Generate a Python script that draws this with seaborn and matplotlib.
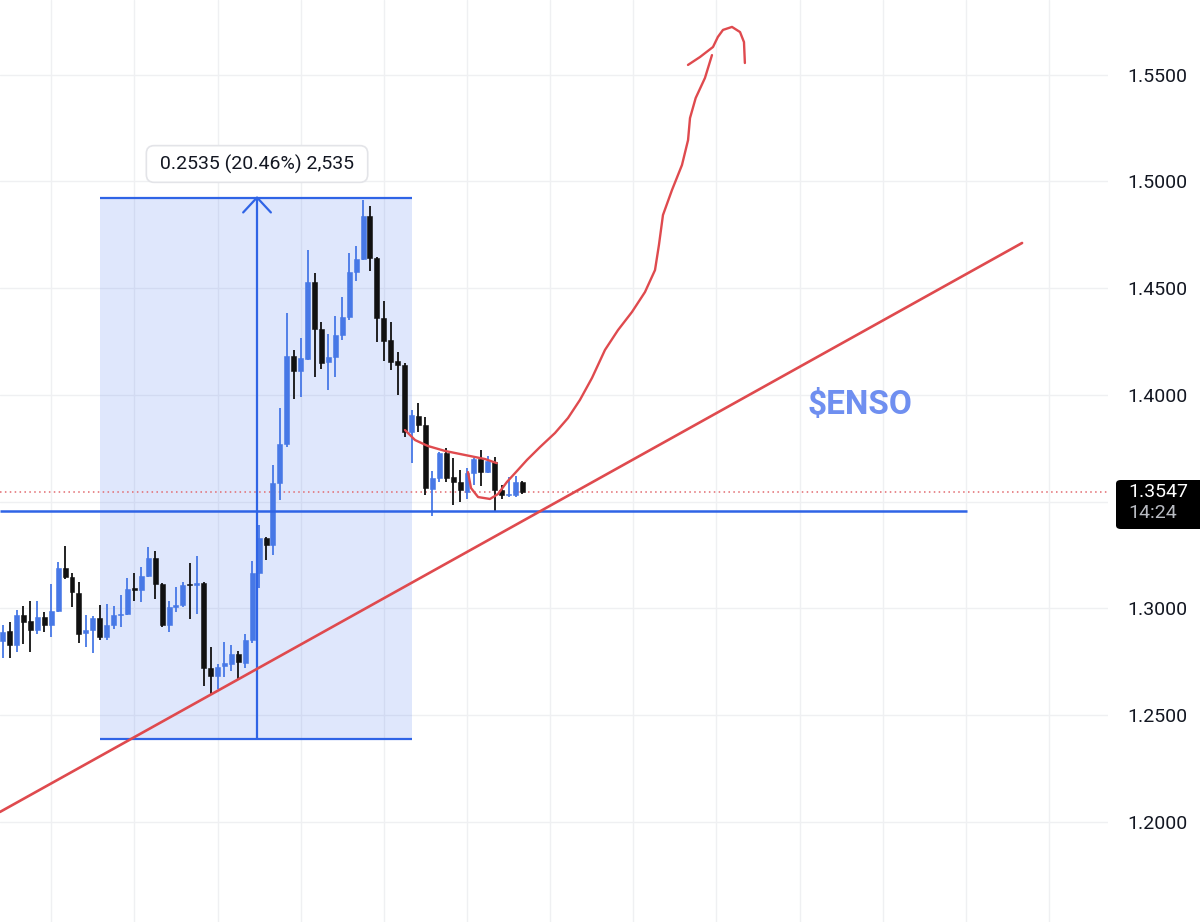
import numpy as np
import pandas as pd
import matplotlib
matplotlib.use("Agg")
import matplotlib.pyplot as plt
import seaborn as sns
from matplotlib.patches import Rectangle, FancyBboxPatch
from matplotlib.transforms import blended_transform_factory

# ---------------- data ----------------
opens = [1.2848, 1.2895, 1.2829, 1.2970, 1.2941, 1.2899, 1.2960, 1.2923, 1.2988, 1.3190,
         1.3148, 1.3073, 1.2885, 1.2899, 1.2955, 1.2867, 1.2923, 1.2970, 1.2974, 1.3096,
         1.3087, 1.3152, 1.3237, 1.3115, 1.2923, 1.3007, 1.3016, 1.3115, 1.3110, 1.3119,
         1.2721, 1.2684, 1.2731, 1.2740, 1.2787, 1.2745, 1.2852, 1.3166, 1.3330, 1.3297,
         1.3588, 1.3770, 1.4183, 1.4112, 1.4169, 1.4529, 1.4309, 1.4155, 1.4178, 1.4281,
         1.4365, 1.4576, 1.4637, 1.4838, 1.4642, 1.4361, 1.4258, 1.4159, 1.4141, 1.3827,
         1.3902, 1.3859, 1.3560, 1.3611, 1.3728, 1.3616, 1.3592, 1.3546, 1.3635, 1.3700,
         1.3639, 1.3686, 1.3555, 1.3530, 1.3532, 1.3592]
highs = [1.2923, 1.2937, 1.2993, 1.3012, 1.3035, 1.3035, 1.2984, 1.3115, 1.3218, 1.3293,
         1.3166, 1.3124, 1.2970, 1.2965, 1.3016, 1.3021, 1.3012, 1.3063, 1.3143, 1.3166,
         1.3194, 1.3288, 1.3269, 1.3119, 1.3035, 1.3101, 1.3124, 1.3213, 1.3246, 1.3124,
         1.2820, 1.2740, 1.2843, 1.2829, 1.2801, 1.2881, 1.3222, 1.3391, 1.3335, 1.3672,
         1.3939, 1.4384, 1.4211, 1.4267, 1.4679, 1.4571, 1.4342, 1.4286, 1.4370, 1.4459,
         1.4665, 1.4698, 1.4913, 1.4885, 1.4646, 1.4440, 1.4342, 1.4201, 1.4150, 1.3930,
         1.3963, 1.3897, 1.3644, 1.3733, 1.3752, 1.3705, 1.3649, 1.3658, 1.3705, 1.3742,
         1.3714, 1.3710, 1.3578, 1.3616, 1.3621, 1.3597]
lows = [1.2768, 1.2768, 1.2796, 1.2834, 1.2796, 1.2881, 1.2890, 1.2867, 1.2984, 1.3138,
        1.3007, 1.2838, 1.2820, 1.2792, 1.2852, 1.2852, 1.2904, 1.2913, 1.2970, 1.3035,
        1.3030, 1.3148, 1.3044, 1.2913, 1.2890, 1.2984, 1.3007, 1.2951, 1.2974, 1.2637,
        1.2595, 1.2623, 1.2679, 1.2707, 1.2670, 1.2721, 1.2838, 1.3096, 1.3227, 1.3251,
        1.3508, 1.3756, 1.3981, 1.3991, 1.4164, 1.4084, 1.4122, 1.4023, 1.4084, 1.4258,
        1.4351, 1.4534, 1.4632, 1.4581, 1.4248, 1.4159, 1.4117, 1.4000, 1.3803, 1.3681,
        1.3827, 1.3532, 1.3433, 1.3592, 1.3592, 1.3485, 1.3499, 1.3513, 1.3578, 1.3574,
        1.3635, 1.3452, 1.3513, 1.3522, 1.3522, 1.3536]
closes = [1.2890, 1.2829, 1.2970, 1.2937, 1.2899, 1.2960, 1.2923, 1.2988, 1.3190, 1.3148,
          1.3077, 1.2881, 1.2899, 1.2955, 1.2867, 1.2923, 1.2970, 1.2974, 1.3091, 1.3087,
          1.3152, 1.3237, 1.3115, 1.2923, 1.3007, 1.3016, 1.3110, 1.3110, 1.3119, 1.2721,
          1.2684, 1.2726, 1.2745, 1.2787, 1.2749, 1.2852, 1.3166, 1.3330, 1.3297, 1.3588,
          1.3770, 1.4183, 1.4112, 1.4173, 1.4529, 1.4309, 1.4150, 1.4178, 1.4281, 1.4365,
          1.4576, 1.4637, 1.4838, 1.4642, 1.4361, 1.4253, 1.4155, 1.4141, 1.3827, 1.3906,
          1.3859, 1.3564, 1.3611, 1.3728, 1.3611, 1.3592, 1.3555, 1.3635, 1.3700, 1.3639,
          1.3691, 1.3555, 1.3532, 1.3534, 1.3592, 1.3547]

price_ticks = [1.20, 1.25, 1.30, 1.35, 1.40, 1.45, 1.50, 1.55]
price_tick_labels = ["1.2000", "1.2500", "1.3000", "", "1.4000", "1.4500", "1.5000", "1.5500"]
time_grid = [7, 19, 31, 43, 55, 67, 79, 91, 103, 115, 127, 139, 151]

# measure tool
measure_x = [14.04, 59.06]
measure_low, measure_high = 1.2390, 1.4925
measure_arrow_x = 36.7
measure_label = " 0.2535 (20.46%) 2,535 "
measure_label_pos = (36.7, 1.5082)

# support line and trend line
support_price = 1.3457
support_end = 139.1
trend_x = [-0.4, 147.1]
trend_y = [1.2047, 1.4712]

last_price = 1.3547
last_price_label = "1.3547"
countdown_label = "14:24"

ticker_text = "$ENSO"
ticker_pos = (123.7, 1.3953)

# hand-drawn red curve (three strokes)
draw_a_x = [58.05, 59.5, 61.37, 63.82, 66.7, 69.6, 71.3]
draw_a_y = [1.3836, 1.3789, 1.3761, 1.3738, 1.3719, 1.3700, 1.3681]
draw_b_x = [67.14, 67.58, 68.6, 70.32, 71.47, 72.77, 74.07, 75.66, 77.53, 79.7, 81.57, 83.3,
            85.04, 86.91, 88.79, 90.81, 92.68, 94.13, 94.7, 95.28, 96.58, 98.02, 98.9,
            99.18, 100.0, 101.34, 102.35]
draw_b_y = [1.3639, 1.3564, 1.3522, 1.3513, 1.3536, 1.3593, 1.3639, 1.3696, 1.3756, 1.3822,
            1.3892, 1.3977, 1.4080, 1.4211, 1.4304, 1.4389, 1.4482, 1.4585, 1.4703, 1.4843,
            1.4960, 1.5077, 1.5194, 1.5297, 1.5391, 1.5485, 1.5592]
draw_c_x = [98.89, 100.62, 102.5, 103.2, 103.94, 105.24, 106.4, 106.97, 107.1]
draw_c_y = [1.5546, 1.5583, 1.5630, 1.5677, 1.5710, 1.5724, 1.5700, 1.5653, 1.5555]

# ---------------- styling ----------------
sns.set_theme(style="white")
plt.rcParams['font.family'] = ['Roboto', 'DejaVu Sans']

BLUE_UP = "#4778e6"
DOWN = "#111111"
LINE_BLUE = "#2f64e6"
RED = "#df4a4e"
GRID = "#eff0f2"

fig = plt.figure(figsize=(12, 9.22), dpi=100)
ax = fig.add_axes([0, 0, 1108 / 1200, 1])
ax.set_facecolor("white")

df = pd.DataFrame({"open": opens, "high": highs, "low": lows, "close": closes})
df["i"] = np.arange(len(df))
df["up"] = df["close"] > df["open"]
df["color"] = np.where(df["up"], BLUE_UP, DOWN)
df["body_low"] = df[["open", "close"]].min(axis=1)
df["body_h"] = (df["close"] - df["open"]).abs().clip(lower=0.0006)

# limits (pixel-matched)
ax.set_xlim(-0.39, 159.5)
ax.set_ylim(1.15316, 1.58501)

# grid
ax.set_axisbelow(True)
ax.set_xticks(time_grid)
ax.set_xticklabels([""] * len(time_grid))
ax.set_yticks(price_ticks)
ax.set_yticklabels(price_tick_labels)
ax.grid(True, color=GRID, lw=1.0)
ax.yaxis.tick_right()
ax.tick_params(axis="y", length=0, pad=14, labelsize=14, labelcolor="#131722")
ax.tick_params(axis="x", length=0)
for s in ax.spines.values():
    s.set_visible(False)

# measure rectangle
ax.add_patch(Rectangle((measure_x[0], measure_low), measure_x[1] - measure_x[0],
                       measure_high - measure_low, facecolor="#3d6df0", alpha=0.16,
                       edgecolor="none", zorder=1))
ax.hlines([measure_low, measure_high], measure_x[0], measure_x[1], color=LINE_BLUE, lw=1.6, zorder=2)

# candles
ax.vlines(df["i"], df["low"], df["high"], colors=df["color"], lw=1.3, zorder=3)
ax.bar(df["i"], df["body_h"], bottom=df["body_low"], width=0.72, color=df["color"],
       edgecolor=df["color"], linewidth=0.4, zorder=3.5)

# measure arrow
ax.vlines(measure_arrow_x, measure_low, measure_high, color=LINE_BLUE, lw=1.6, zorder=4)
ax.plot([measure_arrow_x - 2.0, measure_arrow_x, measure_arrow_x + 2.0],
        [measure_high - 0.0070, measure_high, measure_high - 0.0070],
        color=LINE_BLUE, lw=1.6, zorder=4, solid_capstyle="round")
ax.text(measure_label_pos[0], measure_label_pos[1], measure_label, ha="center", va="center",
        fontsize=14, color="#131722", zorder=6,
        bbox=dict(boxstyle="round,pad=0.45,rounding_size=0.4", fc="white", ec="#e3e4e8", lw=1.2))

# last price dotted line
ax.axhline(last_price, color="#e26a6f", lw=1.1, ls=(0, (1, 2.2)), zorder=2.5)

# support line
ax.hlines(support_price, -0.39, support_end, color=LINE_BLUE, lw=1.8, zorder=4.5)

# trend line & hand drawing
sns.lineplot(x=trend_x, y=trend_y, color=RED, lw=1.9, ax=ax, zorder=5)
for xs, ys in [(draw_a_x, draw_a_y), (draw_b_x, draw_b_y), (draw_c_x, draw_c_y)]:
    sns.lineplot(x=xs, y=ys, sort=False, estimator=None, color=RED, lw=1.7, ax=ax, zorder=5)

# ticker
ax.text(ticker_pos[0], ticker_pos[1], ticker_text, ha="center", va="center",
        fontsize=24, fontweight="bold", color="#6f8ff0", zorder=6)

# last price tag
fig.patches.append(FancyBboxPatch((1116 / 1200, 1 - 529 / 922), 100 / 1200, 49 / 922,
                                  boxstyle="round,pad=0,rounding_size=0.004",
                                  transform=fig.transFigure, fc="#000000", ec="none",
                                  figure=fig, zorder=5))
btr = blended_transform_factory(fig.transFigure, ax.transData)
fig.text(1128 / 1200, last_price, last_price_label, transform=btr, ha="left", va="center",
         fontsize=14, color="white", zorder=6)
fig.text(1128 / 1200, 1 - 513 / 922, countdown_label, ha="left", va="center",
         fontsize=14, color="#b8bbc2", zorder=6)

fig.savefig("out.png", dpi=100)
